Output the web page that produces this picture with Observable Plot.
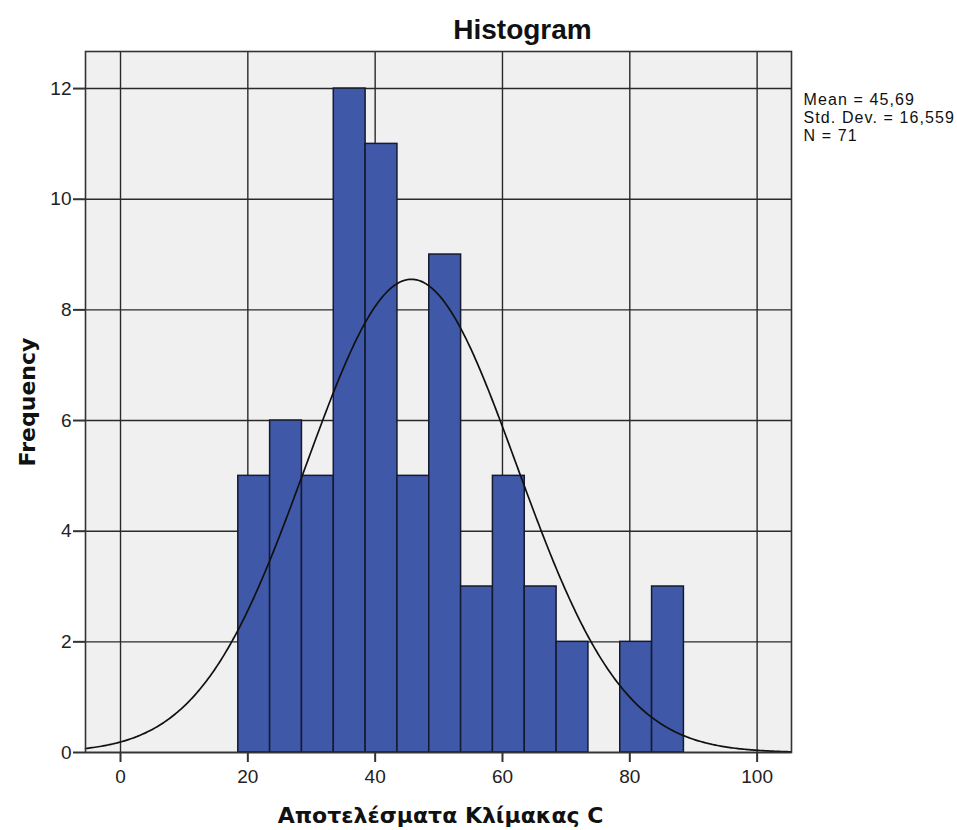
<!DOCTYPE html>
<html><head><meta charset="utf-8">
<script src="https://cdn.jsdelivr.net/npm/d3@7"></script>
<script src="https://cdn.jsdelivr.net/npm/@observablehq/plot@0.6"></script>
<style>
body{margin:0;background:#fff;}
svg{font-family:"Liberation Sans",Arial,sans-serif;}
svg g[aria-label="x-axis tick label"], svg g[aria-label="y-axis tick label"]{font-size:19px;}
</style>
</head><body><div id="chart"></div>
<script>
const binLower = [18.5, 23.5, 28.5, 33.5, 38.5, 43.5, 48.5, 53.5, 58.5, 63.5, 68.5, 73.5, 78.5, 83.5];
const binWidth = 5;
const frequencies = [5, 6, 5, 12, 11, 5, 9, 3, 5, 3, 2, 0, 2, 3];
const xTicks = [0, 20, 40, 60, 80, 100];
const yTicks = [0, 2, 4, 6, 8, 10, 12];
const mean = 45.69, stdDev = 16.559, n = 71;
const statsLines = ["Mean = 45,69", "Std. Dev. = 16,559", "N = 71"];
const titleText = "Histogram";
const xLabel = "Αποτελέσματα Κλίμακας C";
const yLabel = "Frequency";

const xDomain = [-5.5, 105.4];
const bars = binLower.map((lo, i) => ({x1: lo, x2: lo + binWidth, y: frequencies[i]})).filter(d => d.y > 0);
// fitted normal curve from the stated mean / std. dev. / N
const curve = d3.range(xDomain[0], xDomain[1] + 0.001, 0.25).map(x => ({
  x, y: n * binWidth / (stdDev * Math.sqrt(2 * Math.PI)) * Math.exp(-0.5 * ((x - mean) / stdDev) ** 2)
}));

const labelFont = "'DejaVu Sans', Verdana, sans-serif";
const chart = Plot.plot({
  width: 957, height: 830,
  marginLeft: 85, marginRight: 166, marginTop: 51, marginBottom: 78,
  x: {domain: xDomain},
  y: {domain: [0, 12.67]},
  style: {background: "#fff", fontFamily: "'Liberation Sans', Arial, sans-serif", fontSize: "19px", color: "#222"},
  marks: [
    Plot.frame({fill: "#f0f0f0", stroke: null}),
    Plot.gridX(xTicks, {stroke: "#2a2a2a", strokeOpacity: 1, strokeWidth: 1.4}),
    Plot.gridY(yTicks, {stroke: "#2a2a2a", strokeOpacity: 1, strokeWidth: 1.4}),
    Plot.rectY(bars, {x1: "x1", x2: "x2", y: "y", fill: "#3f58a8", stroke: "#151a2e", strokeWidth: 1.5, inset: 0}),
    Plot.line(curve, {x: "x", y: "y", stroke: "#111", strokeWidth: 1.7, curve: "linear"}),
    Plot.frame({stroke: "#333", strokeWidth: 1.6}),
    Plot.axisX(xTicks, {tickSize: 10, tickPadding: 7, strokeWidth: 2, stroke: "#333", label: null, fontSize: 19, tickFormat: "d"}),
    Plot.axisY(yTicks, {tickSize: 12, tickPadding: 2, strokeWidth: 2, stroke: "#333", label: null, fontSize: 19, tickFormat: "d"}),
    Plot.text([titleText], {frameAnchor: "top-left", dx: 437, dy: -21, textAnchor: "middle", lineAnchor: "middle", fontSize: 28, fontWeight: "bold", fill: "#111"}),
    Plot.text([xLabel], {frameAnchor: "bottom-left", dx: 355, dy: 63, textAnchor: "middle", lineAnchor: "middle", fontSize: 22, fontWeight: "bold", fontFamily: labelFont, fill: "#111"}),
    Plot.text([yLabel], {frameAnchor: "left", dx: -58, rotate: -90, textAnchor: "middle", lineAnchor: "middle", fontSize: 22, fontWeight: "bold", fontFamily: labelFont, fill: "#111"}),
    Plot.text([statsLines.join("\n")], {frameAnchor: "top-right", dx: 12, dy: 40, textAnchor: "start", lineAnchor: "top", lineHeight: 1.15, fontSize: 16, fill: "#111"})
  ]
});
d3.select(chart).selectAll("text")
  .filter(function() { return this.textContent.startsWith("Mean"); })
  .style("letter-spacing", "1.1px");
document.getElementById("chart").appendChild(chart);
</script>
</body></html>
